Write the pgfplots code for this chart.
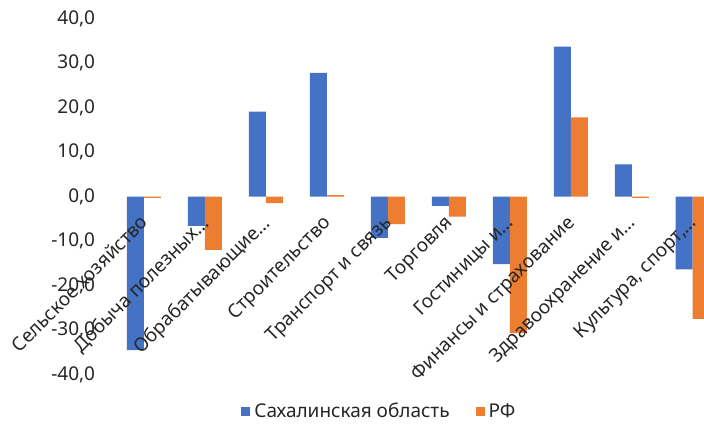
\documentclass[border=0pt]{standalone}
\usepackage{fontspec}
\setmainfont{Noto Sans}
\usepackage{pgfplots}
\pgfplotsset{compat=1.18}
\definecolor{cblue}{HTML}{4472C4}
\definecolor{corange}{HTML}{ED7D31}
\begin{document}
\begin{tikzpicture}
\path[use as bounding box] (0,0) rectangle (352pt,212.5pt);
\begin{axis}[
  at={(56.75pt,25.25pt)}, anchor=south west,
  scale only axis, width=295.25pt, height=178pt,
  xmin=-0.5, xmax=9.185, ymin=-40, ymax=40,
  axis on top,
  axis x line*=middle, axis y line*=left,
  axis line style={draw=none},
  hide obscured x ticks=false, hide obscured y ticks=false,
  major tick length=0pt,
  ybar=0pt, bar width=8.5pt,
  xtick={0,...,9},
  xticklabels={Сельское хозяйство, Добыча полезных…, Обрабатывающие…, Строительство, Транспорт и связь, Торговля, Гостиницы и…, Финансы и страхование, Здравоохранение и…, {Культура, спорт,…}},
  xticklabel style={xshift=-2.5pt, yshift=-8.5pt, rotate=45, anchor=north east, inner sep=0pt},
  ytick={-40,-30,...,40},
  yticklabel style={inner sep=0pt, xshift=-9pt},
  /pgf/number format/.cd, fixed, fixed zerofill, precision=1, use comma, assume math mode=true,
  /pgfplots/.cd,
  tick label style={font=\fontsize{9.5}{11}\selectfont, text=black!85},
  legend style={at={(0.452,-0.105)}, anchor=center, legend columns=2, draw=none, fill=none,
    font=\fontsize{9.5}{11}\selectfont, text=black!85,
    /tikz/every even column/.append style={column sep=11pt}},
  legend image code/.code={\fill[#1] (0pt,-2.25pt) rectangle (4.5pt,2.25pt);},
]
\addplot[fill=cblue, draw=none] coordinates {(0,-34.5) (1,-6.6) (2,19.1) (3,27.8) (4,-9.3) (5,-2.1) (6,-15.2) (7,33.7) (8,7.2) (9,-16.4)};
\addplot[fill=corange, draw=none] coordinates {(0,-0.3) (1,-12.0) (2,-1.5) (3,0.3) (4,-6.2) (5,-4.5) (6,-30.7) (7,17.8) (8,-0.3) (9,-27.5)};
\legend{Сахалинская область, РФ}
\end{axis}
\end{tikzpicture}
\end{document}
